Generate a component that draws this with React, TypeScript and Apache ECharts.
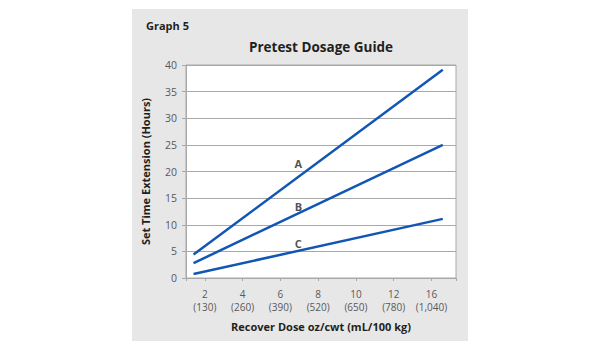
import React, { useEffect, useRef } from "react";
import * as echarts from "echarts";

const xTickValues = [2, 4, 6, 8, 10, 12, 14];
const xTickLabels = ["2\n(130)", "4\n(260)", "6\n(390)", "8\n(520)", "10\n(650)", "12\n(780)", "16\n(1,040)"];
const seriesNames = ["A", "B", "C"];
const lineA = [[1.4, 4.4], [14.6, 39.1]];
const lineB = [[1.4, 2.8], [14.6, 25.0]];
const lineC = [[1.4, 0.75], [14.6, 11.1]];
const labelPoints = [[6.95, 21.5], [6.95, 13.5], [6.95, 6.5]];

const FONT = "'Open Sans', 'Noto Sans', sans-serif";
const BLUE = "#1256b4";
const GRID = "#a8a8a8";

export default function App() {
  const ref = useRef<HTMLDivElement>(null);
  useEffect(() => {
    document.body.style.margin = "0";
    const chart = echarts.init(ref.current!, null, { renderer: "svg" });
    const lines = [lineA, lineB, lineC];
    chart.setOption({
      animation: false,
      textStyle: { fontFamily: FONT },
      graphic: [
        { type: "rect", z: -10, shape: { x: 132, y: 9, width: 336, height: 332 }, style: { fill: "#e7e7e8" } },
        { type: "text", x: 146, y: 25, style: { text: "Graph 5", font: `bold 11px ${FONT}`, fill: "#231f20", textVerticalAlign: "middle" } },
        { type: "text", x: 321, y: 47, style: { text: "Pretest Dosage Guide", font: `bold 13.5px ${FONT}`, fill: "#231f20", textAlign: "center", textVerticalAlign: "middle" } },
      ],
      grid: { left: 186, top: 65, right: 144, bottom: 72, show: true, backgroundColor: "#fff", borderColor: GRID, borderWidth: 1 },
      xAxis: {
        type: "value",
        min: 1,
        max: 15.3,
        name: "Recover Dose oz/cwt (mL/100 kg)",
        nameLocation: "middle",
        nameGap: 43,
        nameTextStyle: { fontFamily: FONT, fontWeight: "bold", fontSize: 11, color: "#231f20" },
        axisLine: { show: true, lineStyle: { color: GRID } },
        axisTick: { show: true, length: 3, lineStyle: { color: GRID }, customValues: [1, ...xTickValues, 15.3] },
        splitLine: { show: false },
        axisLabel: {
          customValues: xTickValues,
          margin: 9,
          fontSize: 10,
          lineHeight: 13,
          color: "#595959",
          fontFamily: FONT,
          formatter: (v: number) => xTickLabels[xTickValues.indexOf(v)] ?? "",
        },
      },
      yAxis: {
        type: "value",
        min: 0,
        max: 40,
        interval: 5,
        name: "Set Time Extension (Hours)",
        nameLocation: "middle",
        nameGap: 35,
        nameTextStyle: { fontFamily: FONT, fontWeight: "bold", fontSize: 11, color: "#231f20" },
        axisLine: { show: true, lineStyle: { color: GRID } },
        axisTick: { show: true, length: 4, lineStyle: { color: GRID } },
        splitLine: { show: true, lineStyle: { color: GRID, width: 1 } },
        axisLabel: { margin: 9, fontSize: 10.5, color: "#595959", fontFamily: FONT },
      },
      series: [
        ...lines.map((d, i) => ({
          type: "line",
          name: seriesNames[i],
          data: d,
          symbol: "none",
          lineStyle: { color: BLUE, width: 2.5 },
          z: 3,
        })),
        {
          type: "scatter",
          symbolSize: 0,
          data: labelPoints.map((p, i) => ({ value: p, name: seriesNames[i] })),
          label: {
            show: true,
            position: "inside",
            formatter: (p: any) => p.name,
            fontFamily: FONT,
            fontWeight: "bold",
            fontSize: 11,
            color: "#231f20",
          },
          z: 4,
        },
      ],
    });
    return () => chart.dispose();
  }, []);
  return <div ref={ref} style={{ width: 600, height: 350 }} />;
}
